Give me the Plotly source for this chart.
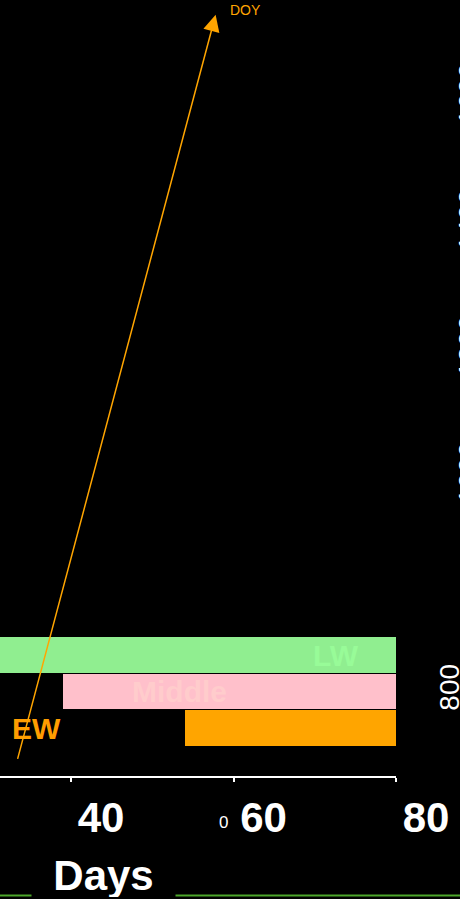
import plotly.graph_objects as go

# growth phases (tree-ring style timeline)
phases = ["LW", "Middle", "EW"]
phase_start = [30, 39, 54]
phase_end = [80, 80, 80]
phase_pos = [850, 800, 750]
phase_colors = ["#90EE90", "#FFC0CB", "#FFA500"]
label_colors = ["#98FB98", "#FFCCCC", "#FF9D00"]
label_x = [72.6, 53.4, 35.8]

# right hand tick labels
right_ticks = [800]
right2_ticks = [1000, 1200, 1400, 1600]

# DOY arrow (tail -> head, data units)
arrow_tail = (33.1, 694)
arrow_head = (57.8, 1727)

fig = go.Figure()

fig.add_trace(go.Bar(
    y=phase_pos,
    x=[e - s for s, e in zip(phase_start, phase_end)],
    base=phase_start,
    orientation='h',
    width=48,
    marker=dict(color=phase_colors, line=dict(width=0)),
    showlegend=False,
    hoverinfo='skip',
))

# invisible trace just to carry the second y axis
fig.add_trace(go.Scatter(x=[None], y=[None], yaxis='y2', showlegend=False))

annotations = []
for name, lx, ly, col in zip(phases, label_x, phase_pos, label_colors):
    annotations.append(dict(
        x=lx, y=ly, xref='x', yref='y', text=name, showarrow=False,
        font=dict(family='Liberation Sans, Arial', size=30, color=col, weight='bold'),
    ))

# the DOY arrow
annotations.append(dict(
    x=arrow_head[0], y=arrow_head[1], xref='x', yref='y',
    ax=arrow_tail[0], ay=arrow_tail[1], axref='x', ayref='y',
    text=' ', showarrow=True, arrowhead=2, arrowsize=2.2, arrowwidth=1.5,
    arrowcolor='#FFA500', standoff=0, startstandoff=0,
))
annotations.append(dict(
    x=245 / 396, y=1 - 10 / 776, xref='paper', yref='paper', text='DOY',
    xanchor='center', yanchor='middle', showarrow=False,
    font=dict(family='Liberation Sans, Arial', size=14, color='#FFA500'),
))
annotations.append(dict(
    x=103.5 / 396, y=(776 - 875) / 776, xref='paper', yref='paper', text='Days',
    xanchor='center', yanchor='middle', showarrow=False, bgcolor='black',
    width=141, height=44,
    font=dict(family='Liberation Sans, Arial', size=42, color='white', weight='bold'),
))
annotations.append(dict(
    x=223 / 396, y=(776 - 822) / 776, xref='paper', yref='paper', text='0',
    xanchor='center', yanchor='middle', showarrow=False,
    font=dict(family='Liberation Sans, Arial', size=17, color='white'),
))

fig.update_layout(
    width=460, height=899,
    margin=dict(l=0, r=64, t=0, b=123),
    paper_bgcolor='black', plot_bgcolor='black',
    bargap=0,
    annotations=annotations,
    shapes=[dict(type='line', xref='paper', yref='paper', x0=0, x1=1.2,
                 y0=(776 - 895.5) / 776, y1=(776 - 895.5) / 776,
                 line=dict(color='#4CA62A', width=2))],
    xaxis=dict(
        range=[31.26, 80], tick0=0, dtick=20, showgrid=False, zeroline=False,
        showline=True, linecolor='white', linewidth=2,
        ticks='outside', ticklen=4, tickwidth=2, tickcolor='white',
        ticklabelshift=30, ticklabelstandoff=0, automargin=False,
        tickfont=dict(family='Liberation Sans, Arial', size=42, color='white', weight='bold'),
    ),
    yaxis=dict(
        range=[684.25, 1747.3], side='right', showgrid=False, zeroline=False,
        showline=False, ticks='', tickvals=right_ticks, tickangle=-90,
        ticklabelstandoff=34, automargin=False,
        tickfont=dict(family='Liberation Sans, Arial', size=28, color='white'),
    ),
    yaxis2=dict(
        range=[526.6, 1755], side='right', overlaying='y', showgrid=False,
        zeroline=False, showline=False, ticks='', tickvals=right2_ticks,
        tickangle=-90, ticklabelstandoff=53, automargin=False,
        tickfont=dict(family='Liberation Sans, Arial', size=28, color='white'),
    ),
)

fig.write_html(
    "out.html",
    config={'displayModeBar': False},
    post_script="document.body.style.margin='0';document.body.style.background='black';",
)
